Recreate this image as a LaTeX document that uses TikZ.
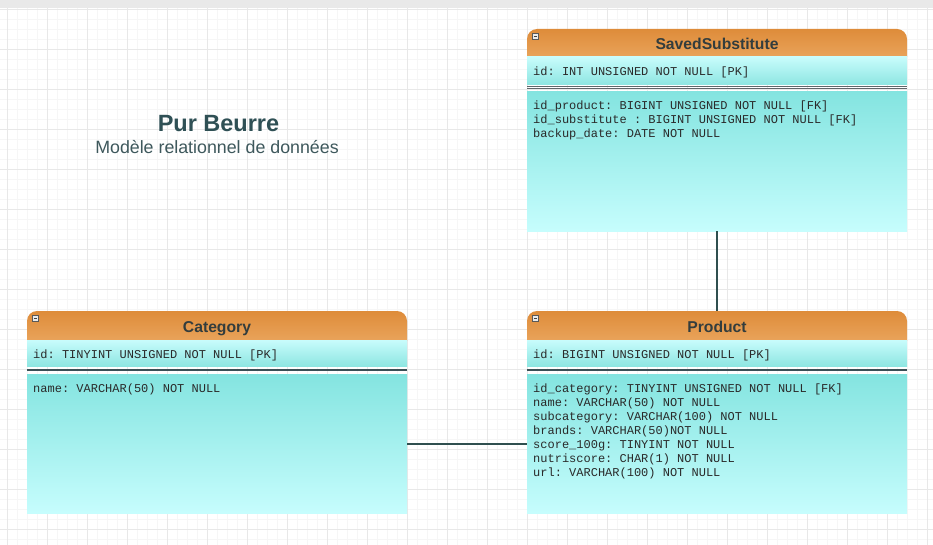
\documentclass[tikz,border=0pt]{standalone}
\usepackage{fontspec}
\setmainfont{Liberation Sans}
\newfontfamily\fieldfont{Liberation Mono}
\frenchspacing
\definecolor{bar}{HTML}{E9E9E9}
\definecolor{gminor}{HTML}{F6F6F6}
\definecolor{gmajor}{HTML}{E8E8E8}
\definecolor{hdrTop}{HTML}{DE8C3A}
\definecolor{hdrBot}{HTML}{E9A35A}
\definecolor{pkTop}{HTML}{C8FCFC}
\definecolor{pkBot}{HTML}{8EE6E2}
\definecolor{bdTop}{HTML}{84E4E0}
\definecolor{bdBot}{HTML}{C6FDFD}
\definecolor{sepdark}{HTML}{3A4F55}
\definecolor{sepgray}{HTML}{5F676B}
\definecolor{conn}{HTML}{2F4F4F}
\definecolor{hdrtext}{HTML}{333D3D}
\definecolor{fldtext}{HTML}{2A2A2A}
\definecolor{titletext}{HTML}{2F5055}
\definecolor{subtext}{HTML}{3E585C}
\tikzset{
  minorgrid/.style={draw=gminor, line width=0.8pt},
  majorgrid/.style={draw=gmajor, line width=0.9pt},
  tablebox/.style={draw=none, inner sep=0pt, minimum width=380pt, anchor=north west},
  hdrtitle/.style={anchor=base, inner sep=0pt, text=hdrtext, font=\bfseries\fontsize{15.7}{18}\selectfont},
  field/.style={anchor=base west, inner sep=0pt, text=fldtext, font=\fieldfont\frenchspacing\fontsize{12}{14}\selectfont},
  relation/.style={draw=conn, line width=2.4pt},
  minusbox/.style={draw=black!65, fill=black!8, line width=0.6pt},
}
\newcommand{\erdtable}[6]{% x, top, hdrbottom, pkbottom, bodytop, bottom
  \begin{scope}
    \clip[rounded corners=10pt] (#1,#2) rectangle ({#1+380},{#3+15});
    \shade[top color=hdrTop, bottom color=hdrBot] (#1,#2) rectangle ({#1+380},#3);
  \end{scope}
  \shade[top color=pkTop, bottom color=pkBot] (#1,#3) rectangle ({#1+380},#4);
  \shade[top color=bdTop, bottom color=bdBot] (#1,#5) rectangle ({#1+380},#6);
  \draw[minusbox] ({#1+5.5},{#2+4}) rectangle ({#1+11.5},{#2+10});
  \draw[black!75, line width=0.8pt] ({#1+6.8},{#2+7}) -- ({#1+10.2},{#2+7});
}
\begin{document}
\begin{tikzpicture}[x=1pt, y=-1pt]
\useasboundingbox (0,0) rectangle (933,545);
\fill[white] (0,0) rectangle (933,545);
% grid
\foreach \x in {7,17,...,927} \draw[minorgrid] (\x,8) -- (\x,545);
\foreach \y in {9,19,...,539} \draw[minorgrid] (0,\y) -- (933,\y);
\foreach \x in {7,47,...,927} \draw[majorgrid] (\x,8) -- (\x,545);
\foreach \y in {9,49,...,529} \draw[majorgrid] (0,\y) -- (933,\y);
\fill[bar] (0,0) rectangle (933,8);

% title
\node[anchor=base, inner sep=0pt, text=titletext, font=\bfseries\fontsize{23.5}{26}\selectfont] (title) at (218.5,131.5) {Pur Beurre};
\node[anchor=base, inner sep=0pt, text=subtext, font=\fontsize{17.8}{20}\selectfont] (subtitle) at (217,153.5) {Modèle relationnel de données};

% SavedSubstitute
\erdtable{527}{29}{57}{84.5}{91.5}{231}
\draw[sepgray, line width=1.1pt] (527,86.3) -- (907,86.3);
\draw[sepgray, line width=1.1pt] (527,88.9) -- (907,88.9);
\node[tablebox, minimum height=202pt] (ss) at (527,29) {};
\node[hdrtitle] (ssh) at (717,50) {SavedSubstitute};
\node[field] (ss0) at (533,76) {id: INT UNSIGNED NOT NULL [PK]};
\node[field] (ss1) at (533,110) {id\_product: BIGINT UNSIGNED NOT NULL [FK]};
\node[field] (ss2) at (533,124) {id\_substitute : BIGINT UNSIGNED NOT NULL [FK]};
\node[field] (ss3) at (533,138) {backup\_date: DATE NOT NULL};

% Category
\erdtable{27}{311}{340}{366}{374}{513}
\draw[sepdark, line width=2.6pt] (27,370) -- (407,370);
\node[tablebox, minimum height=202pt] (cat) at (27,311) {};
\node[hdrtitle] (cath) at (217,332) {Category};
\node[field] (cat0) at (33,358) {id: TINYINT UNSIGNED NOT NULL [PK]};
\node[field] (cat1) at (33,392) {name: VARCHAR(50) NOT NULL};

% Product
\erdtable{527}{311}{340}{366}{374}{513}
\draw[sepdark, line width=2.6pt] (527,370) -- (907,370);
\node[tablebox, minimum height=202pt] (pr) at (527,311) {};
\node[hdrtitle] (prh) at (717,332) {Product};
\node[field] (pr0) at (533,358) {id: BIGINT UNSIGNED NOT NULL [PK]};
\node[field] (pr1) at (533,392) {id\_category: TINYINT UNSIGNED NOT NULL [FK]};
\node[field] (pr2) at (533,406) {name: VARCHAR(50) NOT NULL};
\node[field] (pr3) at (533,420) {subcategory: VARCHAR(100) NOT NULL};
\node[field] (pr4) at (533,434) {brands: VARCHAR(50)NOT NULL};
\node[field] (pr5) at (533,448) {score\_100g: TINYINT NOT NULL};
\node[field] (pr6) at (533,462) {nutriscore: CHAR(1) NOT NULL};
\node[field] (pr7) at (533,476) {url: VARCHAR(100) NOT NULL};

% relations
\coordinate (rel) at (467,444);
\draw[relation] (ss.south) -- (pr.north);
\draw[relation] (rel -| cat.east) -- (rel -| pr.west);
\end{tikzpicture}
\end{document}
